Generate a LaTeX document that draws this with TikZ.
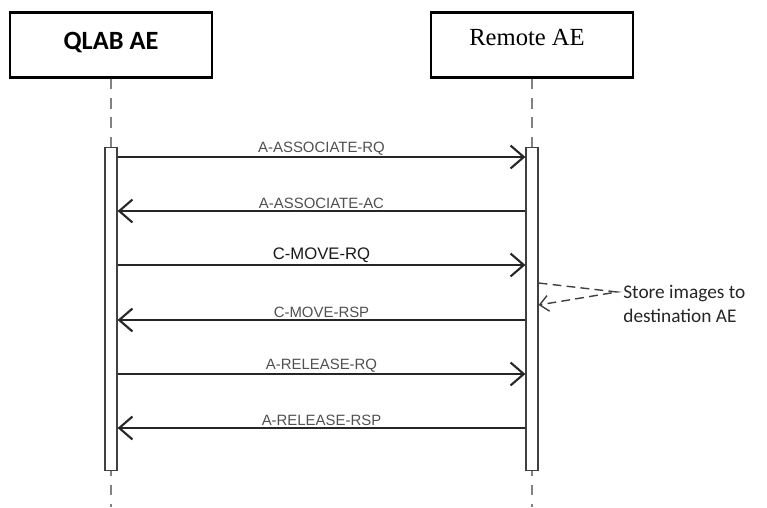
\documentclass[tikz,border=0pt]{standalone}
\usepackage{fontspec}
\setmainfont{Liberation Serif}
\newfontfamily\calibri{Carlito}
\newfontfamily\labfont{Liberation Sans}
\usetikzlibrary{arrows.meta}
\definecolor{labgray}{RGB}{80,80,80}
\definecolor{linegray}{RGB}{130,130,130}
\begin{document}
\begin{tikzpicture}[x=0.02cm, y=-0.02cm, >={Straight Barb[length=7.5pt,width=13pt]},
	actor/.style={draw, line width=1.4pt, fill=white, minimum width=4.04cm, minimum height=1.3cm, inner sep=0pt},
	bar/.style={draw=black!75, line width=0.7pt, fill=white, minimum width=0.24cm, minimum height=6.46cm, inner sep=0pt},
	life/.style={linegray, line width=0.8pt, dash pattern=on 6pt off 5pt},
	msg/.style={->, line width=1.2pt, black!85},
	lab/.style={above, labgray, font=\labfont\fontsize{8.5}{10}\selectfont, inner sep=0.6pt}]
		\useasboundingbox (0,0) rectangle (767,507);
		% lifelines
		\node[actor] (qlab) at (111,45) {};
		\node[actor] (remote) at (532,45) {};
		\node[font=\calibri\bfseries\fontsize{15}{18}\selectfont] (qlabtxt) at (111,43) {QLAB AE};
		\node[font=\fontsize{14}{16}\selectfont] (remotetxt) at (527,37) {Remote AE};
		\coordinate (qend) at (111,507);
		\coordinate (rend) at (532,507);
		\draw[life] (qlab.south) -- (qend);
		\draw[life] (remote.south) -- (rend);
		\node[bar] (qbar) at (111,309) {};
		\node[bar] (rbar) at (532,309) {};
		% messages
		\draw[msg] (qbar.east |- 0,157) -- (rbar.west |- 0,157) node[lab, midway]{A-ASSOCIATE-RQ};
		\draw[msg] (rbar.west |- 0,211) -- (qbar.east |- 0,211) node[lab, midway]{A-ASSOCIATE-AC};
		\draw[msg] (qbar.east |- 0,265) -- (rbar.west |- 0,265) node[lab, midway, black!90, font=\labfont\fontsize{9.5}{11}\selectfont]{C-MOVE-RQ};
		\draw[msg] (rbar.west |- 0,320) -- (qbar.east |- 0,320) node[lab, midway]{C-MOVE-RSP};
		\draw[msg] (qbar.east |- 0,374) -- (rbar.west |- 0,374) node[lab, midway]{A-RELEASE-RQ};
		\draw[msg] (rbar.west |- 0,428) -- (qbar.east |- 0,428) node[lab, midway]{A-RELEASE-RSP};
		% self message
		\coordinate (turn) at (617,292);
		\draw[black!75, line width=0.8pt, dash pattern=on 5pt off 3pt, >={Straight Barb[length=5pt,width=9pt]}, ->] (rbar.east |- 0,283) -- (turn) -- (rbar.east |- 0,305);
		\node[anchor=north west, align=left, black!85, font=\calibri\fontsize{11}{13.5}\selectfont, inner sep=0pt] (store) at (623,285) {Store images to\\destination AE};
		\end{tikzpicture}
\end{document}
